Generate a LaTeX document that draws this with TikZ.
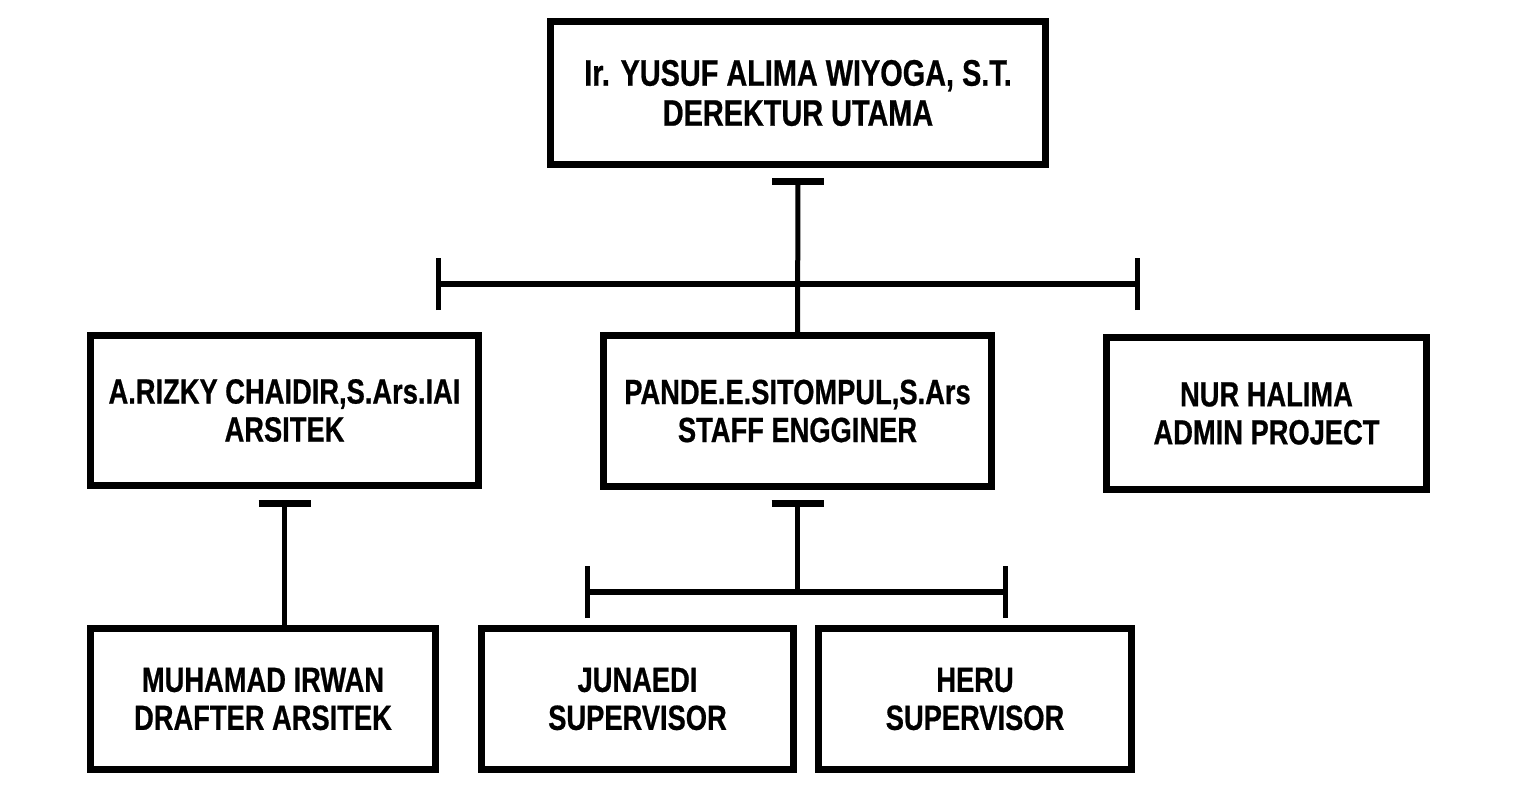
\documentclass[tikz,border=0pt]{standalone}
\usepackage{fontspec}
\setmainfont{Liberation Sans}[FakeStretch=0.78, BoldFeatures={FakeBold=0.6}]
\usetikzlibrary{calc}

\begin{document}
\begin{tikzpicture}[x=1pt,y=-1pt,
  box/.style={draw, line width=7pt, align=center, font=\bfseries\fontsize{35}{38}\selectfont},
  link/.style={line width=5pt},
  tee/.style={line width=7pt},
  rail/.style={line width=6pt},
  tick/.style={line width=5pt}]

\useasboundingbox (0,0) rectangle (1538,792);

\node[box, minimum width=495, minimum height=142, font=\bfseries\fontsize{37}{40}\selectfont] (direktur) at (798,93) {Ir. YUSUF ALIMA WIYOGA, S.T.\\DEREKTUR UTAMA};

\node[box, minimum width=388, minimum height=150] (arsitek) at (284.5,410.5) {A.RIZKY CHAIDIR,S.Ars.IAI\\ARSITEK};

\node[box, minimum width=388, minimum height=151] (staff) at (797.5,411) {PANDE.E.SITOMPUL,S.Ars\\STAFF ENGGINER};

\node[box, minimum width=320, minimum height=152] (admin) at (1266.5,413.5) {NUR HALIMA\\ADMIN PROJECT};

\node[box, minimum width=345, minimum height=141] (drafter) at (263,699) {MUHAMAD IRWAN\\DRAFTER ARSITEK};

\node[box, minimum width=312, minimum height=141] (junaedi) at (637.5,699) {JUNAEDI\\SUPERVISOR};

\node[box, minimum width=313, minimum height=141] (heru) at (975,699) {HERU\\SUPERVISOR};

% direktur down to staff, crossing the rail
\coordinate (direkturT) at ([yshift=-14pt]direktur.south);
\coordinate (railL) at (438,284);
\coordinate (railR) at (1137,284);

\draw[tee] ([xshift=-26pt]direkturT) -- ([xshift=26pt]direkturT);
\draw[link] (direkturT) -- (staff.north);
\draw[rail] (railL) -- (railR);
\draw[tick] ([yshift=-26pt]railL) -- ([yshift=26pt]railL);
\draw[tick] ([yshift=-26pt]railR) -- ([yshift=26pt]railR);

% arsitek down to drafter
\coordinate (arsitekT) at ([yshift=-14.5pt]arsitek.south);

\draw[tee] ([xshift=-26pt]arsitekT) -- ([xshift=26pt]arsitekT);
\draw[link] (arsitekT) -- (arsitekT |- drafter.north);

% staff down to the supervisors
\coordinate (staffT) at ([yshift=-13.5pt]staff.south);
\coordinate (subL) at (587,592);
\coordinate (subR) at (1005,592);

\draw[tee] ([xshift=-26pt]staffT) -- ([xshift=26pt]staffT);
\draw[link] (staffT) -- (staffT |- subL);
\draw[rail] (subL) -- (subR);
\draw[tick] ([yshift=-26pt]subL) -- ([yshift=26pt]subL);
\draw[tick] ([yshift=-26pt]subR) -- ([yshift=26pt]subR);

\end{tikzpicture}
\end{document}
